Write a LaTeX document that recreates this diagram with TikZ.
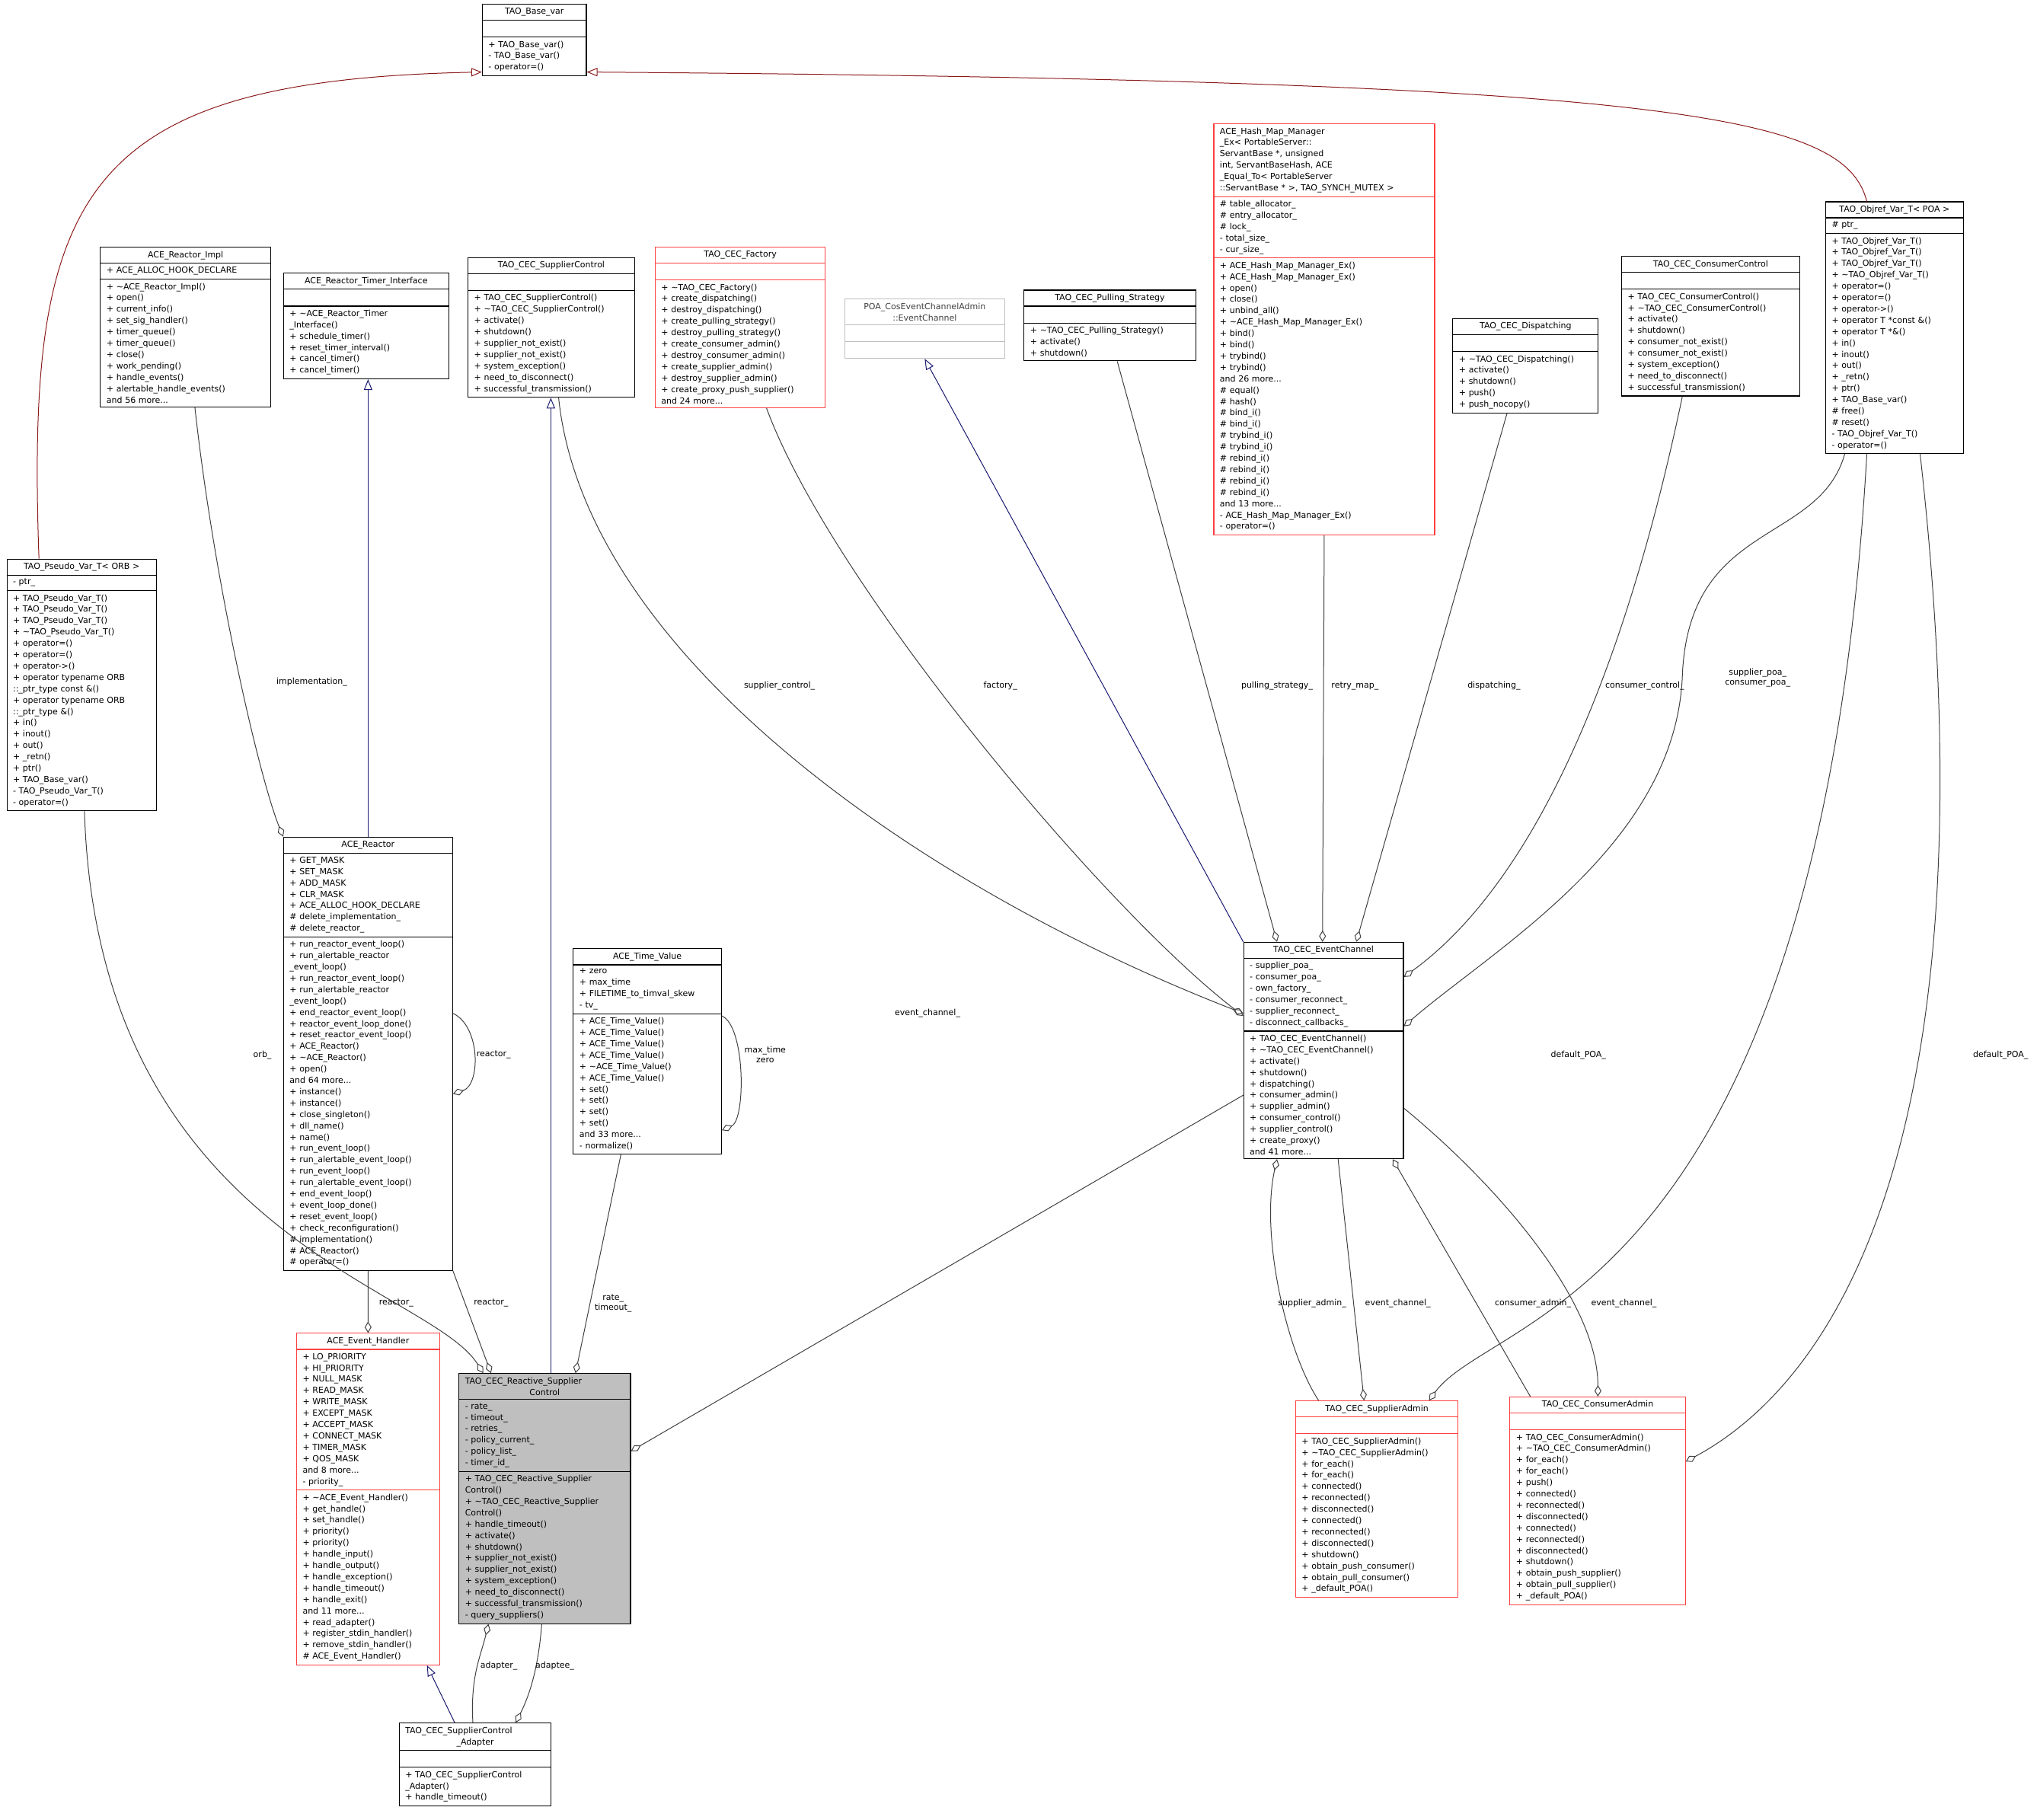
\documentclass[tikz,border=0pt]{standalone}
\usepackage{fontspec}
\setmainfont{DejaVu Sans}
\usepackage{tikz}
\usetikzlibrary{shapes.multipart, arrows.meta, calc}
\definecolor{edgegray}{RGB}{64, 64, 64}
\definecolor{inhblue}{RGB}{25, 25, 112}
\definecolor{inhred}{RGB}{139, 26, 26}
\definecolor{boxred}{RGB}{255, 64, 64}
\definecolor{boxgray}{RGB}{191, 191, 191}
\newcommand{\tld}{\textasciitilde}
\newcommand{\ttl}[1]{\makebox[\hsize][c]{#1}}
\newcommand{\nomem}{\rule{0pt}{12pt}}
\tikzstyle{cls} = [rectangle split, rectangle split parts=3, draw=black, line width=1.1pt, anchor=north west, align=left, inner xsep=8pt, inner ysep=4.5pt, font=\fontsize{11}{14.9}\selectfont]
\tikzstyle{redcls} = [cls, draw=boxred]
\tikzstyle{assoc} = [edgegray, line width=1pt, -{Diamond[open, length=15pt, width=9pt]}]
\tikzstyle{inh} = [inhblue, line width=1pt, -{Triangle[open, length=14pt, width=11pt]}]
\tikzstyle{inhr} = [inhred, line width=1pt, -{Triangle[open, length=14pt, width=11pt]}]
\tikzstyle{lbl} = [font=\fontsize{11}{13}\selectfont, align=center, inner sep=1pt]

\begin{document}
\begin{tikzpicture}[x=1.706pt, y=-1.706pt]
    \useasboundingbox (0,0) rectangle (1568,1400.4);

    % top row
    \node[cls, text width=120.5pt] (base) at (371,3) {\ttl{TAO\_Base\_var}
        \nodepart{two}\nomem
        \nodepart{three}+ TAO\_Base\_var()\\- TAO\_Base\_var()\\- operator=()};
    \node[cls, text width=207.5pt] (impl) at (77,190) {\ttl{ACE\_Reactor\_Impl}
        \nodepart{two}+ ACE\_ALLOC\_HOOK\_DECLARE
        \nodepart{three}+ \tld ACE\_Reactor\_Impl()\\+ open()\\+ current\_info()\\+ set\_sig\_handler()\\+ timer\_queue()\\+ timer\_queue()\\+ close()\\+ work\_pending()\\+ handle\_events()\\+ alertable\_handle\_events()\\and 56 more...};
    \node[cls, text width=200.7pt] (timer) at (218,210) {\ttl{ACE\_Reactor\_Timer\_Interface}
        \nodepart{two}\nomem
        \nodepart{three}+ \tld ACE\_Reactor\_Timer\\\_Interface()\\+ schedule\_timer()\\+ reset\_timer\_interval()\\+ cancel\_timer()\\+ cancel\_timer()};
    \node[cls, text width=202.4pt] (supctl) at (360,198) {\ttl{TAO\_CEC\_SupplierControl}
        \nodepart{two}\nomem
        \nodepart{three}+ TAO\_CEC\_SupplierControl()\\+ \tld TAO\_CEC\_SupplierControl()\\+ activate()\\+ shutdown()\\+ supplier\_not\_exist()\\+ supplier\_not\_exist()\\+ system\_exception()\\+ need\_to\_disconnect()\\+ successful\_transmission()};
    \node[redcls, text width=207.5pt] (factory) at (504,190) {\ttl{TAO\_CEC\_Factory}
        \nodepart{two}\nomem
        \nodepart{three}+ \tld TAO\_CEC\_Factory()\\+ create\_dispatching()\\+ destroy\_dispatching()\\+ create\_pulling\_strategy()\\+ destroy\_pulling\_strategy()\\+ create\_consumer\_admin()\\+ destroy\_consumer\_admin()\\+ create\_supplier\_admin()\\+ destroy\_supplier\_admin()\\+ create\_proxy\_push\_supplier()\\and 24 more...};
    \node[cls, draw=boxgray, text=black!75, text width=193.8pt] (poa) at (650,230) {\ttl{POA\_CosEventChannelAdmin}\\\ttl{::EventChannel}
        \nodepart{two}\nomem
        \nodepart{three}\nomem};
    \node[cls, text width=209.2pt] (pull) at (788,223) {\ttl{TAO\_CEC\_Pulling\_Strategy}
        \nodepart{two}\nomem
        \nodepart{three}+ \tld TAO\_CEC\_Pulling\_Strategy()\\+ activate()\\+ shutdown()};
    \node[redcls, text width=274pt] (hash) at (934,95) {ACE\_Hash\_Map\_Manager\\\_Ex< PortableServer::\\ServantBase *, unsigned\\ int, ServantBaseHash, ACE\\\_Equal\_To< PortableServer\\::ServantBase * >, TAO\_SYNCH\_MUTEX >
        \nodepart{two}\# table\_allocator\_\\\# entry\_allocator\_\\\# lock\_\\- total\_size\_\\- cur\_size\_
        \nodepart{three}+ ACE\_Hash\_Map\_Manager\_Ex()\\+ ACE\_Hash\_Map\_Manager\_Ex()\\+ open()\\+ close()\\+ unbind\_all()\\+ \tld ACE\_Hash\_Map\_Manager\_Ex()\\+ bind()\\+ bind()\\+ trybind()\\+ trybind()\\and 26 more...\\\# equal()\\\# hash()\\\# bind\_i()\\\# bind\_i()\\\# trybind\_i()\\\# trybind\_i()\\\# rebind\_i()\\\# rebind\_i()\\\# rebind\_i()\\\# rebind\_i()\\and 13 more...\\- ACE\_Hash\_Map\_Manager\_Ex()\\- operator=()};
    \node[cls, text width=175pt] (disp) at (1118,245) {\ttl{TAO\_CEC\_Dispatching}
        \nodepart{two}\nomem
        \nodepart{three}+ \tld TAO\_CEC\_Dispatching()\\+ activate()\\+ shutdown()\\+ push()\\+ push\_nocopy()};
    \node[cls, text width=217.7pt] (conctl) at (1248,197) {\ttl{TAO\_CEC\_ConsumerControl}
        \nodepart{two}\nomem
        \nodepart{three}+ TAO\_CEC\_ConsumerControl()\\+ \tld TAO\_CEC\_ConsumerControl()\\+ activate()\\+ shutdown()\\+ consumer\_not\_exist()\\+ consumer\_not\_exist()\\+ system\_exception()\\+ need\_to\_disconnect()\\+ successful\_transmission()};
    \node[cls, text width=164.8pt] (objref) at (1405,155) {\ttl{TAO\_Objref\_Var\_T< POA >}
        \nodepart{two}\# ptr\_
        \nodepart{three}+ TAO\_Objref\_Var\_T()\\+ TAO\_Objref\_Var\_T()\\+ TAO\_Objref\_Var\_T()\\+ \tld TAO\_Objref\_Var\_T()\\+ operator=()\\+ operator=()\\+ operator->()\\+ operator T *const \&()\\+ operator T *\&()\\+ in()\\+ inout()\\+ out()\\+ \_retn()\\+ ptr()\\+ TAO\_Base\_var()\\\# free()\\\# reset()\\- TAO\_Objref\_Var\_T()\\- operator=()};

    % middle row
    \node[cls, text width=180.2pt] (pseudo) at (5,430) {\ttl{TAO\_Pseudo\_Var\_T< ORB >}
        \nodepart{two}- ptr\_
        \nodepart{three}+ TAO\_Pseudo\_Var\_T()\\+ TAO\_Pseudo\_Var\_T()\\+ TAO\_Pseudo\_Var\_T()\\+ \tld TAO\_Pseudo\_Var\_T()\\+ operator=()\\+ operator=()\\+ operator->()\\+ operator typename ORB\\::\_ptr\_type const \&()\\+ operator typename ORB\\::\_ptr\_type \&()\\+ in()\\+ inout()\\+ out()\\+ \_retn()\\+ ptr()\\+ TAO\_Base\_var()\\- TAO\_Pseudo\_Var\_T()\\- operator=()};
    \node[cls, text width=205.8pt] (reactor) at (218,644) {\ttl{ACE\_Reactor}
        \nodepart{two}+ GET\_MASK\\+ SET\_MASK\\+ ADD\_MASK\\+ CLR\_MASK\\+ ACE\_ALLOC\_HOOK\_DECLARE\\\# delete\_implementation\_\\\# delete\_reactor\_
        \nodepart{three}+ run\_reactor\_event\_loop()\\+ run\_alertable\_reactor\\\_event\_loop()\\+ run\_reactor\_event\_loop()\\+ run\_alertable\_reactor\\\_event\_loop()\\+ end\_reactor\_event\_loop()\\+ reactor\_event\_loop\_done()\\+ reset\_reactor\_event\_loop()\\+ ACE\_Reactor()\\+ \tld ACE\_Reactor()\\+ open()\\and 64 more...\\+ instance()\\+ instance()\\+ close\_singleton()\\+ dll\_name()\\+ name()\\+ run\_event\_loop()\\+ run\_alertable\_event\_loop()\\+ run\_event\_loop()\\+ run\_alertable\_event\_loop()\\+ end\_event\_loop()\\+ event\_loop\_done()\\+ reset\_event\_loop()\\+ check\_reconfiguration()\\\# implementation()\\\# ACE\_Reactor()\\\# operator=()};
    \node[cls, text width=178.5pt] (timeval) at (441,730) {\ttl{ACE\_Time\_Value}
        \nodepart{two}+ zero\\+ max\_time\\+ FILETIME\_to\_timval\_skew\\- tv\_
        \nodepart{three}+ ACE\_Time\_Value()\\+ ACE\_Time\_Value()\\+ ACE\_Time\_Value()\\+ ACE\_Time\_Value()\\+ \tld ACE\_Time\_Value()\\+ ACE\_Time\_Value()\\+ set()\\+ set()\\+ set()\\+ set()\\and 33 more...\\- normalize()};
    \node[cls, text width=193.8pt] (ec) at (957,725) {\ttl{TAO\_CEC\_EventChannel}
        \nodepart{two}- supplier\_poa\_\\- consumer\_poa\_\\- own\_factory\_\\- consumer\_reconnect\_\\- supplier\_reconnect\_\\- disconnect\_callbacks\_
        \nodepart{three}+ TAO\_CEC\_EventChannel()\\+ \tld TAO\_CEC\_EventChannel()\\+ activate()\\+ shutdown()\\+ dispatching()\\+ consumer\_admin()\\+ supplier\_admin()\\+ consumer\_control()\\+ supplier\_control()\\+ create\_proxy()\\and 41 more...};

    % bottom row
    \node[redcls, text width=171.7pt] (evh) at (228,1026) {\ttl{ACE\_Event\_Handler}
        \nodepart{two}+ LO\_PRIORITY\\+ HI\_PRIORITY\\+ NULL\_MASK\\+ READ\_MASK\\+ WRITE\_MASK\\+ EXCEPT\_MASK\\+ ACCEPT\_MASK\\+ CONNECT\_MASK\\+ TIMER\_MASK\\+ QOS\_MASK\\and 8 more...\\- priority\_
        \nodepart{three}+ \tld ACE\_Event\_Handler()\\+ get\_handle()\\+ set\_handle()\\+ priority()\\+ priority()\\+ handle\_input()\\+ handle\_output()\\+ handle\_exception()\\+ handle\_timeout()\\+ handle\_exit()\\and 11 more...\\+ read\_adapter()\\+ register\_stdin\_handler()\\+ remove\_stdin\_handler()\\\# ACE\_Event\_Handler()};
    \node[cls, fill=boxgray, text width=209.2pt] (rsc) at (353,1057) {TAO\_CEC\_Reactive\_Supplier\\\ttl{Control}
        \nodepart{two}- rate\_\\- timeout\_\\- retries\_\\- policy\_current\_\\- policy\_list\_\\- timer\_id\_
        \nodepart{three}+ TAO\_CEC\_Reactive\_Supplier\\Control()\\+ \tld TAO\_CEC\_Reactive\_Supplier\\Control()\\+ handle\_timeout()\\+ activate()\\+ shutdown()\\+ supplier\_not\_exist()\\+ supplier\_not\_exist()\\+ system\_exception()\\+ need\_to\_disconnect()\\+ successful\_transmission()\\- query\_suppliers()};
    \node[cls, text width=183.6pt] (adapter) at (307,1326) {TAO\_CEC\_SupplierControl\\\ttl{\_Adapter}
        \nodepart{two}\nomem
        \nodepart{three}+ TAO\_CEC\_SupplierControl\\\_Adapter()\\+ handle\_timeout()};
    \node[redcls, text width=197.3pt] (supadm) at (997,1078) {\ttl{TAO\_CEC\_SupplierAdmin}
        \nodepart{two}\nomem
        \nodepart{three}+ TAO\_CEC\_SupplierAdmin()\\+ \tld TAO\_CEC\_SupplierAdmin()\\+ for\_each()\\+ for\_each()\\+ connected()\\+ reconnected()\\+ disconnected()\\+ connected()\\+ reconnected()\\+ disconnected()\\+ shutdown()\\+ obtain\_push\_consumer()\\+ obtain\_pull\_consumer()\\+ \_default\_POA()};
    \node[redcls, text width=214.3pt] (conadm) at (1162,1075) {\ttl{TAO\_CEC\_ConsumerAdmin}
        \nodepart{two}\nomem
        \nodepart{three}+ TAO\_CEC\_ConsumerAdmin()\\+ \tld TAO\_CEC\_ConsumerAdmin()\\+ for\_each()\\+ for\_each()\\+ push()\\+ connected()\\+ reconnected()\\+ disconnected()\\+ connected()\\+ reconnected()\\+ disconnected()\\+ shutdown()\\+ obtain\_push\_supplier()\\+ obtain\_pull\_supplier()\\+ \_default\_POA()};

    % inheritance
    \draw[inhr] ($(pseudo.north west)+(25,0)$) .. controls (20,150) and (60,62) .. ($(base.south west)+(0,-3)$);
    \draw[inhr] ($(objref.north west)+(32,0)$) .. controls (1420,90) and (1300,62) .. ($(base.south east)+(0,-3)$);
    \draw[inh] (reactor.north) -- (reactor.north |- timer.south);
    \draw[inh] ($(rsc.north west)+(71,0)$) -- ($(supctl.south west)+(64,0)$);
    \draw[inh] (ec.north west) -- (poa.south);
    \draw[inh] ($(adapter.north west)+(43,0)$) -- ($(evh.south east)+(-10,0)$);

    % members
    \draw[assoc] ($(impl.south west)+(73,0)$) .. controls (165,450) and (200,600) .. (reactor.north west);
    \draw[assoc] ($(reactor.north east)+(0,136)$) .. controls (370,790) and (370,835) .. ($(reactor.north east)+(0,198)$);
    \draw[assoc] ($(timeval.north east)+(0,52)$) .. controls (574,790) and (574,862) .. ($(timeval.north east)+(0,140)$);
    \draw[assoc] ($(supctl.south west)+(70,0)$) .. controls (450,500) and (700,680) .. ($(ec.north west)+(0,55)$);
    \draw[assoc] ($(factory.south west)+(86,0)$) .. controls (640,450) and (850,700) .. ($(ec.north west)+(0,57)$);
    \draw[assoc] ($(pull.south west)+(72,0)$) -- ($(ec.north west)+(26,0)$);
    \draw[assoc] (hash.south) -- ($(ec.north west)+(61,0)$);
    \draw[assoc] ($(disp.south west)+(42,0)$) -- ($(ec.north west)+(87,0)$);
    \draw[assoc] ($(conctl.south west)+(47,0)$) .. controls (1250,520) and (1180,680) .. ($(ec.north east)+(0,27)$);
    \draw[assoc] ($(objref.south west)+(15,0)$) .. controls (1400,420) and (1300,400) .. (1295,520) .. controls (1290,650) and (1150,730) .. ($(ec.north east)+(0,65)$);
    \draw[assoc] ($(objref.south west)+(32,0)$) .. controls (1400,1000) and (1150,1010) .. ($(supadm.north west)+(103,0)$);
    \draw[assoc] ($(objref.south west)+(73,0)$) .. controls (1540,900) and (1400,1070) .. ($(conadm.north east)+(0,50)$);
    \draw[assoc] ($(ec.north west)+(0,118)$) -- ($(rsc.north east)+(0,60)$);
    \draw[assoc] ($(supadm.north west)+(18,0)$) .. controls (990,1040) and (970,950) .. ($(ec.south west)+(26,0)$);
    \draw[assoc] ($(ec.south west)+(73,0)$) -- ($(supadm.north west)+(53,0)$);
    \draw[assoc] ($(conadm.north west)+(16,0)$) -- ($(ec.south west)+(115,0)$);
    \draw[assoc] ($(ec.north east)+(0,128)$) .. controls (1150,910) and (1230,1000) .. ($(conadm.north west)+(68,0)$);
    \draw[assoc] ($(pseudo.south west)+(60,0)$) .. controls (75,950) and (330,990) .. ($(rsc.north west)+(19,0)$);
    \draw[assoc] (reactor.south east) -- ($(rsc.north west)+(25,0)$);
    \draw[assoc] (reactor.south) -- (evh.north);
    \draw[assoc] ($(timeval.south west)+(37,0)$) -- ($(rsc.north west)+(90,0)$);
    \draw[assoc] ($(adapter.north west)+(57,0)$) .. controls (362,1290) and (370,1275) .. ($(rsc.south west)+(23,0)$);
    \draw[assoc] ($(rsc.south west)+(64,0)$) .. controls (414,1290) and (405,1310) .. ($(adapter.north west)+(90,0)$);

    % labels
    \node[lbl] (limpl) at (240,525) {implementation\_};
    \node[lbl] (lself) at (380,812) {reactor\_};
    \node[lbl] (ltime) at (589,812) {max\_time\\zero};
    \node[lbl] (lsupctl) at (600,528) {supplier\_control\_};
    \node[lbl] (lfact) at (770,528) {factory\_};
    \node[lbl] (lpull) at (983,528) {pulling\_strategy\_};
    \node[lbl] (lretry) at (1043,528) {retry\_map\_};
    \node[lbl] (ldisp) at (1150,528) {dispatching\_};
    \node[lbl] (lconctl) at (1266,528) {consumer\_control\_};
    \node[lbl] (lpoa) at (1353,522) {supplier\_poa\_\\consumer\_poa\_};
    \node[lbl] (ldefs) at (1215,812) {default\_POA\_};
    \node[lbl] (ldefc) at (1540,812) {default\_POA\_};
    \node[lbl] (lorb) at (202,812) {orb\_};
    \node[lbl] (lec) at (714,780) {event\_channel\_};
    \node[lbl] (lsadm) at (1010,1003) {supplier\_admin\_};
    \node[lbl] (lsec) at (1076,1003) {event\_channel\_};
    \node[lbl] (lcadm) at (1180,1003) {consumer\_admin\_};
    \node[lbl] (lcec) at (1250,1003) {event\_channel\_};
    \node[lbl] (lreac1) at (305,1003) {reactor\_};
    \node[lbl] (lreac2) at (378,1003) {reactor\_};
    \node[lbl] (lrate) at (472,1003) {rate\_\\timeout\_};
    \node[lbl] (ladapter) at (384,1282) {adapter\_};
    \node[lbl] (ladaptee) at (427,1282) {adaptee\_};
\end{tikzpicture}
\end{document}
